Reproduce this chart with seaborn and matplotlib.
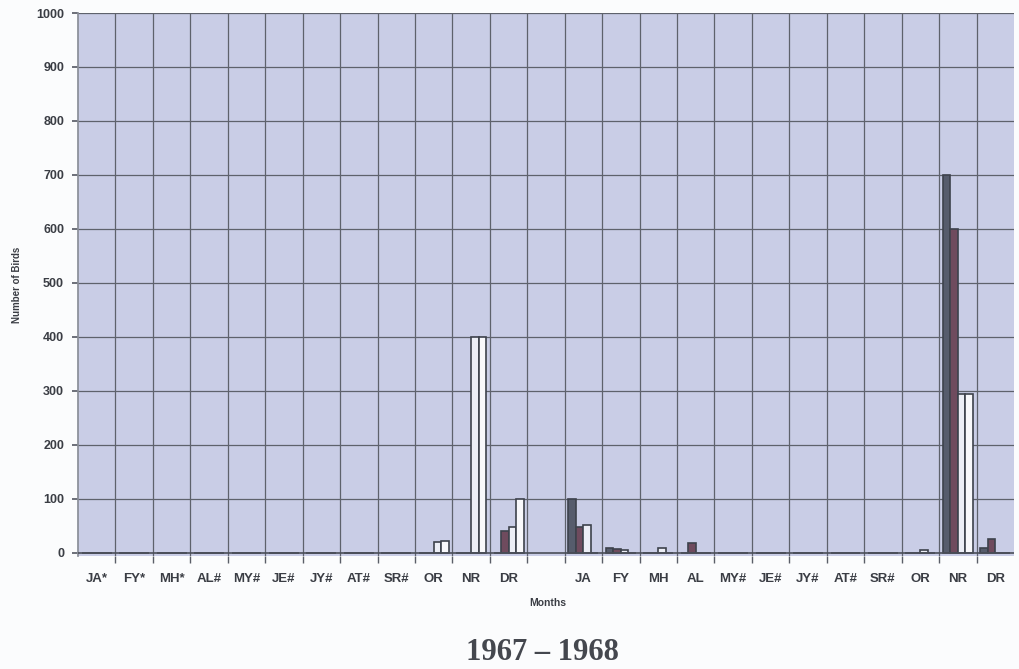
import numpy as np
import pandas as pd
import matplotlib
matplotlib.use("Agg")
import matplotlib.pyplot as plt
import seaborn as sns

labels = ["JA*", "FY*", "MH*", "AL#", "MY#", "JE#", "JY#", "AT#", "SR#", "OR", "NR", "DR",
          "",
          "JA", "FY", "MH", "AL", "MY#", "JE#", "JY#", "AT#", "SR#", "OR", "NR", "DR"]
series_a = [0, 0, 0, 0, 0, 0, 0, 0, 0, 0, 0, 0,
            np.nan,
            100, 8, 0, 0, 0, 0, 0, 0, 0, 0, 700, 8]
series_b = [0, 0, 0, 0, 0, 0, 0, 0, 0, 0, 0, 40,
            np.nan,
            48, 7, 0, 18, 0, 0, 0, 0, 0, 0, 600, 25]
series_c = [0, 0, 0, 0, 0, 0, 0, 0, 0, 20, 400, 48,
            np.nan,
            52, 6, 8, 0, 0, 0, 0, 0, 0, 6, 295, 0]
series_d = [0, 0, 0, 0, 0, 0, 0, 0, 0, 22, 400, 100,
            np.nan,
            0, 0, 0, 0, 0, 0, 0, 0, 0, 0, 295, 0]
series_names = ["A", "B", "C", "D"]
title = "1967 – 1968"

slots = [f"s{i:02d}" for i in range(len(labels))]
rows = []
for name, vals in zip(series_names, [series_a, series_b, series_c, series_d]):
    for s, v in zip(slots, vals):
        rows.append({"slot": s, "series": name, "value": v})
df = pd.DataFrame(rows)

sns.set_theme(style="white")
plt.rcParams["font.family"] = ["Liberation Sans", "DejaVu Sans"]

fig = plt.figure(figsize=(10.19, 6.69), dpi=100)
fig.patch.set_facecolor("#fbfcfd")
ax = fig.add_axes([78 / 1019, 1 - 556 / 669, (1014 - 78) / 1019, (556 - 13) / 669])
ax.set_facecolor("#c9cde6")

palette = {"A": "#565c6c", "B": "#6f4b5e", "C": "#eceef6", "D": "#f8f8fb"}
sns.barplot(data=df, x="slot", y="value", hue="series", order=slots,
            hue_order=series_names, palette=palette, width=0.8,
            edgecolor="#3d424c", linewidth=1.2, saturation=1,
            legend=False, ax=ax, errorbar=None)

ax.set_xlim(-0.5, len(labels) - 0.5)
ax.set_ylim(-6, 1000)
ax.set_yticks(np.arange(0, 1001, 100))
ax.set_yticklabels([str(v) for v in range(0, 1001, 100)],
                   fontsize=9, fontweight="bold", color="#3a3d44")
ax.set_xticks(range(len(labels)))
ax.set_xticklabels(labels, fontsize=9.5, fontweight="bold", color="#3a3d44")
ax.set_xticks(np.arange(0.5, len(labels) - 0.5, 1), minor=True)

ax.grid(False)
for y in range(100, 1001, 100):
    ax.axhline(y, color="#5e626c", lw=0.9, zorder=0.5)
for x in np.arange(0.5, len(labels) - 0.5, 1):
    ax.axvline(x, color="#5e626c", lw=0.9, zorder=0.5)
ax.axhline(0, color="#4a4e58", lw=1.2, zorder=3)

ax.tick_params(axis="x", which="major", length=0, pad=12)
ax.tick_params(axis="x", which="minor", length=5, color="#5a5e68", direction="out", bottom=True)
ax.tick_params(axis="y", length=4, color="#5a5e68", direction="out", left=True, pad=6)

for sp in ax.spines.values():
    sp.set_visible(False)
ax.spines["left"].set_visible(True)
ax.spines["left"].set_color("#8a8e98")

ax.set_xlabel("Months", fontsize=7.5, fontweight="bold", color="#3a3d44")
ax.xaxis.set_label_coords((548 - 78) / (1014 - 78), -0.078)
ax.set_ylabel("Number of Birds", fontsize=7, fontweight="bold", color="#3a3d44", labelpad=10)

fig.text(542 / 1019, 1 - 652 / 669, title, ha="center", va="center",
         fontsize=22, fontweight="bold", family=["Liberation Serif", "DejaVu Serif"],
         color="#44474e")

fig.savefig("out.png", dpi=100, facecolor=fig.get_facecolor())
